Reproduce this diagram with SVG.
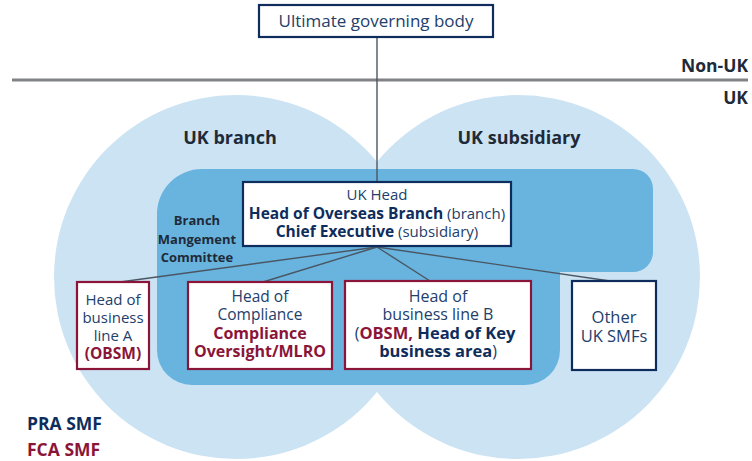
<svg xmlns="http://www.w3.org/2000/svg" width="752" height="461" viewBox="0 0 752 461">
<style>
.t{font-family:"Open Sans","Noto Sans",sans-serif;font-weight:400;fill:#22406b;text-anchor:middle}
.b{font-weight:bold;fill:#0e2d5c}
.r{font-weight:bold;fill:#8b1538}
.lbl{font-family:"Open Sans","Noto Sans",sans-serif;font-weight:bold;fill:#1f2a38}
.navybox{fill:#fff;stroke:#0e2d5c;stroke-width:2.2}
.redbox{fill:#fff;stroke:#8b1538;stroke-width:2.2}
.conn{stroke:#4a5663;stroke-width:1.4;fill:none}
</style>
<g id="background">
<circle cx="236" cy="277" r="182" fill="#cbe3f3"/>
<circle cx="518" cy="277" r="182" fill="#cbe3f3"/>
<path d="M202,169 H633 A20,20 0 0 1 653,189 V252 A20,20 0 0 1 633,272 H560 V350 A35,35 0 0 1 525,385 H192 A35,35 0 0 1 157,350 V214 A45,45 0 0 1 202,169 Z" fill="#68b4df"/>
<line x1="12" y1="80" x2="748" y2="80" stroke="#808285" stroke-width="3"/>
</g>
<g id="labels">
<text class="lbl" x="748" y="72" font-size="17.5" text-anchor="end">Non-UK</text>
<text class="lbl" x="748" y="104" font-size="17.5" text-anchor="end">UK</text>
<text class="lbl" x="230" y="144" font-size="18" text-anchor="middle">UK branch</text>
<text class="lbl" x="519" y="144" font-size="18" text-anchor="middle">UK subsidiary</text>
<text class="lbl" x="197" y="225" font-size="13" text-anchor="middle">Branch</text>
<text class="lbl" x="197" y="244" font-size="13" text-anchor="middle">Mangement</text>
<text class="lbl" x="197" y="262" font-size="13" text-anchor="middle">Committee</text>
<text x="27" y="430" font-family="'Open Sans','Noto Sans',sans-serif" font-weight="bold" font-size="17.5" fill="#0e2d5c">PRA SMF</text>
<text x="27" y="456" font-family="'Open Sans','Noto Sans',sans-serif" font-weight="bold" font-size="17.5" fill="#8b1538">FCA SMF</text>
</g>
<g id="connectors">
<line class="conn" x1="377" y1="37" x2="377" y2="182"/>
<line class="conn" x1="377" y1="247" x2="120" y2="282"/>
<line class="conn" x1="377" y1="247" x2="263" y2="282"/>
<line class="conn" x1="377" y1="247" x2="430" y2="281"/>
<line class="conn" x1="377" y1="247" x2="610" y2="281"/>
</g>
<g id="node-ugb">
<rect class="navybox" x="259" y="5" width="234" height="32"/>
<text class="t" x="376" y="27" font-size="17">Ultimate governing body</text>
</g>
<g id="node-ukhead" font-size="15.5">
<rect class="navybox" x="243" y="182" width="268" height="64"/>
<text class="t" x="377" y="200" font-size="15">UK Head</text>
<text class="t" x="377" y="219"><tspan class="b">Head of Overseas Branch</tspan><tspan font-size="15"> (branch)</tspan></text>
<text class="t" x="377" y="237"><tspan class="b">Chief Executive</tspan><tspan font-size="15"> (subsidiary)</tspan></text>
</g>
<g id="node-bla" font-size="15">
<rect class="redbox" x="77" y="282" width="72" height="87"/>
<text class="t" x="113" y="305">Head of</text>
<text class="t" x="113" y="323">business</text>
<text class="t" x="113" y="341">line A</text>
<text class="t r" x="113" y="359" font-size="15.5">(OBSM)</text>
</g>
<g id="node-compliance" font-size="15.5">
<rect class="redbox" x="188" y="282" width="144" height="87"/>
<text class="t" x="260" y="302">Head of</text>
<text class="t" x="260" y="320">Compliance</text>
<text class="t r" x="260" y="339" font-size="16">Compliance</text>
<text class="t r" x="260" y="357" font-size="16">Oversight/MLRO</text>
</g>
<g id="node-blb" font-size="16">
<rect class="redbox" x="345" y="281" width="186" height="88"/>
<text class="t" x="438" y="302">Head of</text>
<text class="t" x="438" y="320">business line B</text>
<text class="t" x="435" y="339">(<tspan class="r" font-size="16.5">OBSM,</tspan><tspan class="b" font-size="16.5"> Head of Key</tspan></text>
<text class="t" x="438" y="357"><tspan class="b" font-size="16.5">business area</tspan>)</text>
</g>
<g id="node-other" font-size="16.5">
<rect class="navybox" x="572" y="281" width="84" height="89"/>
<text class="t" x="614" y="323">Other</text>
<text class="t" x="614" y="342">UK SMFs</text>
</g>
</svg>
